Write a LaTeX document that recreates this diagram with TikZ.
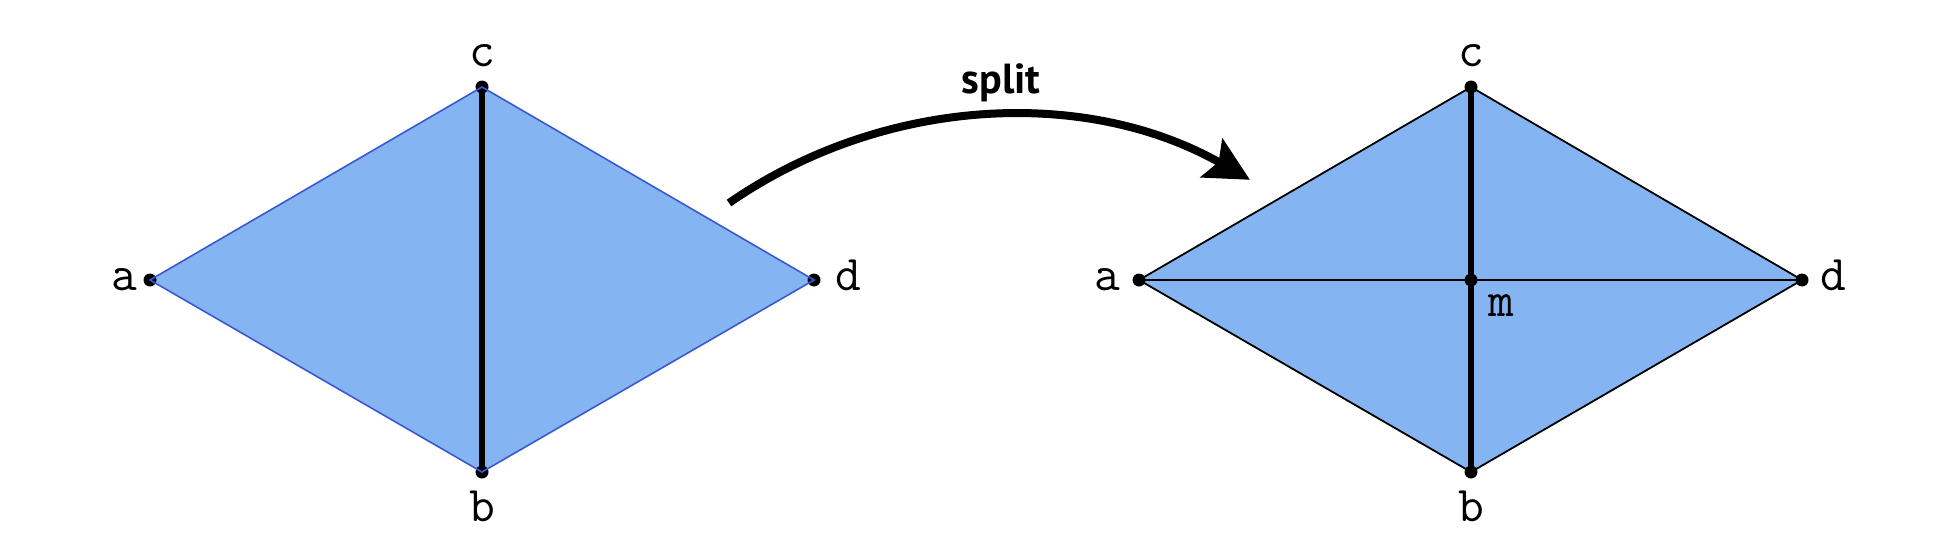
\documentclass[tikz,border=0pt]{standalone}
\usepackage{fontspec}
\newfontfamily\splitfont{PT Sans}
\usetikzlibrary{arrows.meta}
\definecolor{facefill}{HTML}{84B5F2}
\definecolor{edgeblue}{HTML}{3A58CF}
\tikzset{
  face/.style={fill=facefill, draw=none},
  blueedge/.style={draw=edgeblue, line width=1.6pt},
  blackedge/.style={draw=black, line width=1.8pt},
  thickedge/.style={draw=black, line width=6pt},
  vdot/.style={circle, fill=black, inner sep=0pt, minimum size=13pt},
  vlabel/.style={anchor=base, inner sep=0pt, font=\fontsize{50}{50}\selectfont\ttfamily},
  splitarrow/.style={line width=8pt, -{Stealth[length=44pt, width=44pt, inset=8pt]}}
}
\begin{document}
\begin{tikzpicture}[x=1pt, y=-1pt]
\useasboundingbox (0,0) rectangle (1958,546);
% left diamond
\coordinate (la) at (150,280);
\coordinate (lc) at (482,87);
\coordinate (lb) at (482,472);
\coordinate (ld) at (814,280);
\path[face] (la) -- (lc) -- (ld) -- (lb) -- cycle;
\node[vdot] (lda) at (la) {};
\node[vdot] (ldc) at (lc) {};
\node[vdot] (ldb) at (lb) {};
\node[vdot] (ldd) at (ld) {};
\draw[thickedge] (lc) -- (lb);
\draw[blueedge] (la) -- (lc) -- (ld) -- (lb) -- cycle;
\node[vlabel] (tla) at (124,290) {a};
\node[vlabel] (tlc) at (482,66) {c};
\node[vlabel] (tlb) at (482,521) {b};
\node[vlabel] (tld) at (848,290) {d};
% right diamond
\coordinate (ra) at (1139,280);
\coordinate (rc) at (1471,87);
\coordinate (rb) at (1471,472);
\coordinate (rd) at (1802,280);
\coordinate (rm) at (1471,280);
\path[face] (ra) -- (rc) -- (rd) -- (rb) -- cycle;
\draw[blackedge] (ra) -- (rc) -- (rd) -- (rb) -- cycle;
\draw[blackedge] (ra) -- (rd);
\draw[thickedge] (rc) -- (rb);
\node[vdot] (rda) at (ra) {};
\node[vdot] (rdc) at (rc) {};
\node[vdot] (rdb) at (rb) {};
\node[vdot] (rdd) at (rd) {};
\node[vdot] (rdm) at (rm) {};
\node[vlabel] (tra) at (1107,290) {a};
\node[vlabel] (trc) at (1471,66) {c};
\node[vlabel] (trb) at (1471,521) {b};
\node[vlabel] (trd) at (1833,290) {d};
\node[vlabel] (trm) at (1501,316) {m};
% arrow
\coordinate (as) at (729,203);
\draw[splitarrow] (as) arc[start angle=124.7, end angle=60.4, radius=490pt];
\node[anchor=base, inner sep=0pt, font=\fontsize{42}{42}\selectfont\splitfont\bfseries] (split) at (1001,93) {split};
\end{tikzpicture}
\end{document}
